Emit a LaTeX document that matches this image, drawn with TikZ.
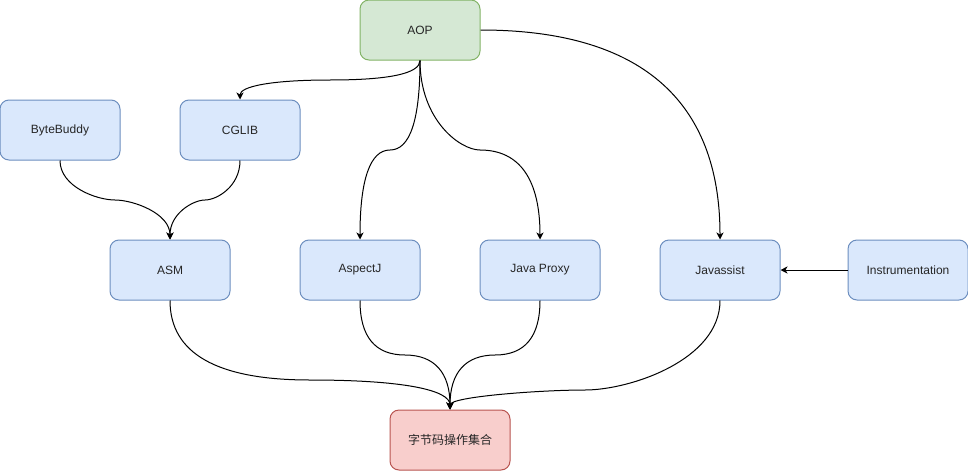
\documentclass[tikz,border=0pt]{standalone}
\usepackage{fontspec}
\setmainfont{Liberation Sans}
\newfontfamily\cjk{Noto Sans CJK SC}
\usetikzlibrary{arrows.meta}
\definecolor{bluefill}{HTML}{DAE8FC}
\definecolor{bluedraw}{HTML}{6C8EBF}
\definecolor{greenfill}{HTML}{D5E8D4}
\definecolor{greendraw}{HTML}{82B366}
\definecolor{redfill}{HTML}{F8CECC}
\definecolor{reddraw}{HTML}{B85450}
\tikzset{
  box/.style={rectangle, rounded corners=9pt, minimum width=120pt, minimum height=60pt,
    inner sep=0pt, line width=1pt, font=\fontsize{12}{14}\selectfont, text=black!85},
  bluebox/.style={box, fill=bluefill, draw=bluedraw},
  greenbox/.style={box, fill=greenfill, draw=greendraw},
  redbox/.style={box, fill=redfill, draw=reddraw},
  conn/.style={line width=1pt, -{Stealth[length=7pt,width=7pt,inset=2pt]}}
}
\begin{document}
\begin{tikzpicture}[x=1pt,y=-1pt]
\useasboundingbox (0,0) rectangle (968,471);
\node[greenbox] (aop) at (420,30) {AOP};
\node[bluebox] (bb) at (60,130) {ByteBuddy};
\node[bluebox] (cglib) at (240,130) {CGLIB};
\node[bluebox] (asm) at (170,270) {ASM};
\node[bluebox] (aspectj) at (360,270) {AspectJ};
\node[bluebox] (jproxy) at (540,270) {Java Proxy};
\node[bluebox] (jassist) at (720,270) {Javassist};
\node[bluebox] (instr) at (908,270) {Instrumentation};
\node[redbox] (bc) at (450,440) {\cjk 字节码操作集合};

% AOP -> CGLIB
\draw[conn] (aop.south) .. controls (420,73.33) and (390,80) .. (330,80)
  .. controls (270,80) and (240,86.67) .. (cglib.north);
% AOP -> AspectJ
\draw[conn] (aop.south) .. controls (420,120) and (410,150) .. (390,150)
  .. controls (370,150) and (360,180) .. (aspectj.north);
% AOP -> Java Proxy
\draw[conn] (aop.south) .. controls (420,120) and (460,150) .. (480,150)
  .. controls (520,150) and (540,180) .. (jproxy.north);
% AOP -> Javassist
\draw[conn] (aop.east) .. controls (640,30) and (720,100) .. (jassist.north);
% ByteBuddy -> ASM
\draw[conn] (bb.south) .. controls (60,186.67) and (96.67,200) .. (115,200)
  .. controls (133.33,200) and (170,213.33) .. (asm.north);
% CGLIB -> ASM
\draw[conn] (cglib.south) .. controls (240,186.67) and (216.67,200) .. (205,200)
  .. controls (193.33,200) and (170,213.33) .. (asm.north);
% Instrumentation -> Javassist
\draw[conn] (instr.west) -- (jassist.east);
% ASM -> bytecode
\draw[conn] (asm.south) .. controls (170,353.33) and (216.67,380) .. (310,380)
  .. controls (403.33,380) and (450,390) .. (bc.north);
% AspectJ -> bytecode
\draw[conn] (aspectj.south) .. controls (360,336.67) and (375,355) .. (405,355)
  .. controls (435,355) and (450,373.33) .. (bc.north);
% Java Proxy -> bytecode
\draw[conn] (jproxy.south) .. controls (540,336.67) and (525,355) .. (495,355)
  .. controls (465,355) and (450,373.33) .. (bc.north);
% Javassist -> bytecode
\draw[conn] (jassist.south) .. controls (720,360) and (630,390) .. (585,390)
  .. controls (540,390) and (450,396.67) .. (bc.north);
\end{tikzpicture}
\end{document}
